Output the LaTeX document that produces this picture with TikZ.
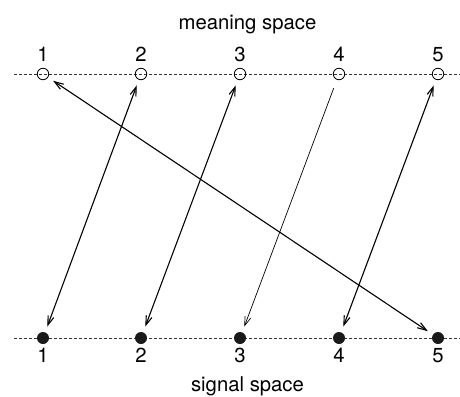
\documentclass[tikz,border=0pt]{standalone}
\usepackage{fontspec}
\setmainfont{TeX Gyre Heros}
\usetikzlibrary{arrows.meta}
\begin{document}
\begin{tikzpicture}[x=1pt,y=-1pt,
  lbl/.style={font=\fontsize{20.3}{23}\selectfont, anchor=base, inner sep=0pt},
  axisline/.style={dash pattern=on 3pt off 2pt, line width=0.7pt, draw=black!80},
  mpt/.style={circle, draw, line width=0.8pt, minimum size=11.5pt, inner sep=0pt},
  spt/.style={circle, fill=black!90, minimum size=12pt, inner sep=0pt},
  link/.style={line width=1.1pt, {Straight Barb[length=9pt,width=6pt]}-{Straight Barb[length=9pt,width=6pt]}, shorten <=6pt, shorten >=6pt},
  onelink/.style={line width=0.7pt, -{Straight Barb[length=9pt,width=6pt]}, shorten <=9pt, shorten >=6pt}]
\useasboundingbox (0,0) rectangle (460,396);
\coordinate (ls) at (14,74);
\coordinate (le) at (460,74);
\coordinate (bs) at (14,338);
\coordinate (be) at (460,338);
\draw[axisline] (ls) -- (le);
\draw[axisline] (bs) -- (be);
\foreach \i/\x in {1/43,2/141,3/240,4/339,5/438}{
  \node[mpt] (m\i) at (\x,74) {};
  \node[spt] (s\i) at (\x,338) {};
  \node[lbl] (mt\i) at (\x,62) {\i};
  \node[lbl] (st\i) at (\x,362) {\i};
}
\node[lbl] (mtitle) at (247.5,30) {meaning space};
\node[lbl] (stitle) at (247.5,391) {signal space};
\draw[link] (m1) -- (s5);
\draw[link] (m2) -- (s1);
\draw[link] (m3) -- (s2);
\draw[onelink] (m4) -- (s3);
\draw[link] (m5) -- (s4);
\end{tikzpicture}
\end{document}
